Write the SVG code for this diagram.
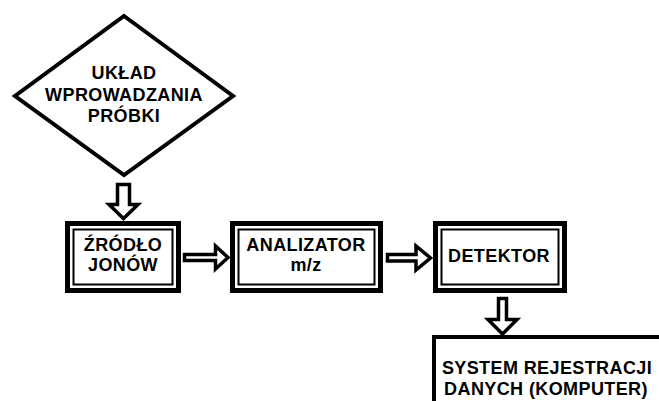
<svg xmlns="http://www.w3.org/2000/svg" width="659" height="401" viewBox="0 0 659 401">
<style>
.t{font-family:"Liberation Sans",Arial,sans-serif;font-weight:bold;font-size:18px;letter-spacing:0.4px;fill:#000;text-anchor:middle}
.o{fill:#fff;stroke:#000;stroke-width:5}
.i{fill:none;stroke:#000;stroke-width:2}
.a{fill:#fff;stroke:#000;stroke-width:3.5;stroke-linejoin:miter}
.av{fill:#fff;stroke:#000;stroke-width:3.5;stroke-linejoin:miter}
</style>
<rect width="659" height="401" fill="#fff"/>
<g id="uklad">
<polygon points="124,16 233,96 124,175 15,96" fill="#fff" stroke="#000" stroke-width="4"/>
<text class="t" x="124" y="79">UKŁAD</text>
<text class="t" x="124" y="100.5">WPROWADZANIA</text>
<text class="t" x="124" y="122">PRÓBKI</text>
</g>
<g id="zrodlo">
<rect class="o" x="67.5" y="223.5" width="111" height="67"/>
<rect class="i" x="73.5" y="229.5" width="99" height="55"/>
<text class="t" x="123" y="251">ŹRÓDŁO</text>
<text class="t" x="123" y="271">JONÓW</text>
</g>
<g id="analizator">
<rect class="o" x="232.5" y="223.5" width="148" height="67"/>
<rect class="i" x="238.5" y="229.5" width="136" height="55"/>
<text class="t" x="306" y="251">ANALIZATOR</text>
<text class="t" x="306" y="271">m/z</text>
</g>
<g id="detektor">
<rect class="o" x="435.5" y="223.5" width="129" height="67"/>
<rect class="i" x="441.5" y="229.5" width="117" height="55"/>
<text class="t" x="499" y="262">DETEKTOR</text>
</g>
<g id="system">
<rect x="434" y="337" width="300" height="120" fill="#fff" stroke="#000" stroke-width="4"/>
<text class="t" x="547" y="374">SYSTEM REJESTRACJI</text>
<text class="t" x="546" y="395">DANYCH (KOMPUTER)</text>
</g>
<g id="connectors">
<polygon class="av" points="117.5,184.5 129.5,184.5 129.5,204.5 138,204.5 123.5,218.5 109,204.5 117.5,204.5"/>
<polygon class="a" points="184.5,254.5 215.5,254.5 215.5,246 228,257.5 215.5,269 215.5,260.5 184.5,260.5"/>
<polygon class="a" points="387.5,254.5 416,254.5 416,246 430.5,258 416,270 416,261 387.5,261"/>
<polygon class="av" points="498.5,298.5 506.5,298.5 506.5,319.5 517,319.5 502.5,334 488,319.5 498.5,319.5"/>
</g>
</svg>
